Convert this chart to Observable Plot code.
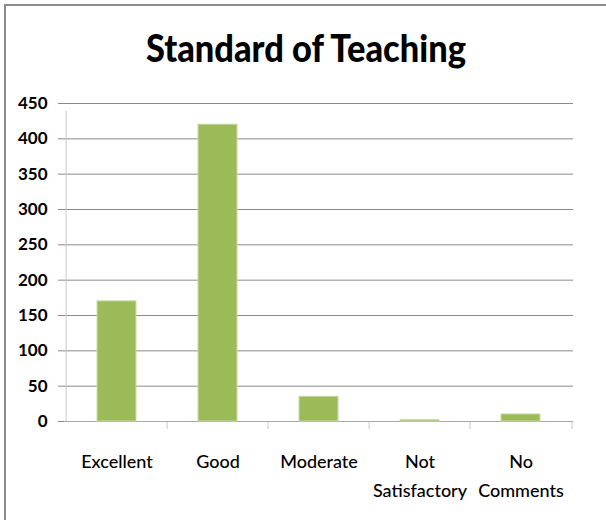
<!DOCTYPE html>
<html>
<head>
<meta charset="utf-8">
<script src="https://cdn.jsdelivr.net/npm/d3@7"></script>
<script src="https://cdn.jsdelivr.net/npm/@observablehq/plot@0.6"></script>
<style>
  html, body { margin: 0; padding: 0; background: #fff; }
  #wrap { position: relative; width: 606px; height: 520px; overflow: hidden; }
  #border { position: absolute; left: 4px; top: 4px; width: 620px; height: 540px;
            border-left: 2px solid #8c8c8c; border-top: 2px solid #8c8c8c; box-sizing: border-box; }
  #title { position: absolute; left: 3px; top: 29px; width: 606px; text-align: center;
           font-family: Lato, "Open Sans", sans-serif; font-weight: 900; font-size: 37px;
           line-height: 37px; color: #000; transform: scaleX(0.93); transform-origin: 50% 50%; }
  #chart { position: absolute; left: 0; top: 80px; }
</style>
</head>
<body>
<div id="wrap">
  <div id="border"></div>
  <div id="title">Standard of Teaching</div>
  <div id="chart"></div>
</div>
<script>
const categories = ["Excellent", "Good", "Moderate", "Not Satisfactory", "No Comments"];
const labels = ["Excellent", "Good", "Moderate", "Not\nSatisfactory", "No\nComments"];
const values = [170, 420, 35, 2, 10];
const yTicks = [0, 50, 100, 150, 200, 250, 300, 350, 400, 450];

const data = categories.map((c, i) => ({category: c, value: values[i]}));
const W = 606, H = 440, ML = 64, MR = 33, MT = 23, MB = 99;
const step = (W - ML - MR) / categories.length;
const font = 'Lato, "Open Sans", sans-serif';

const chart = Plot.plot({
  width: W, height: H,
  marginLeft: ML, marginRight: MR, marginTop: MT, marginBottom: MB,
  style: {fontFamily: font, fontSize: "18px", color: "#000", background: "transparent"},
  x: {domain: categories, paddingInner: 0.61, paddingOuter: 0.305, axis: null},
  y: {domain: [0, 450], ticks: yTicks, axis: null},
  marks: [
    Plot.gridY(yTicks, {stroke: "#8a8a8a", strokeOpacity: 1}),
    Plot.ruleX([categories[0]], {dx: -step / 2, y1: 0, y2: 450, insetBottom: -8, stroke: "#c8c8c8"}),
    Plot.ruleX(categories.slice(1), {dx: -step / 2, y1: 0, y2: 0, insetBottom: -8, stroke: "#c8c8c8"}),
    Plot.ruleX([categories[categories.length - 1]], {dx: step / 2, y1: 0, y2: 0, insetBottom: -8, stroke: "#c8c8c8"}),
    Plot.ruleY([0], {stroke: "#a8a8a8"}),
    Plot.barY(data, {x: "category", y: "value", fill: "#9bbb59", stroke: "#c9dba3", strokeWidth: 1}),
    Plot.axisY(yTicks, {label: null, tickSize: 6, tickPadding: 11, stroke: "#8a8a8a",
      fontSize: 17, fill: "#000", fontWeight: "bold", letterSpacing: "-0.6px"}),
    Plot.axisX(categories, {label: null, tickSize: 0, tickPadding: 26,
      tickFormat: (d) => labels[categories.indexOf(d)],
      lineHeight: 1.62, fontSize: 18, fill: "#000", fontWeight: "500"})
  ]
});
document.getElementById("chart").appendChild(chart);
</script>
</body>
</html>
